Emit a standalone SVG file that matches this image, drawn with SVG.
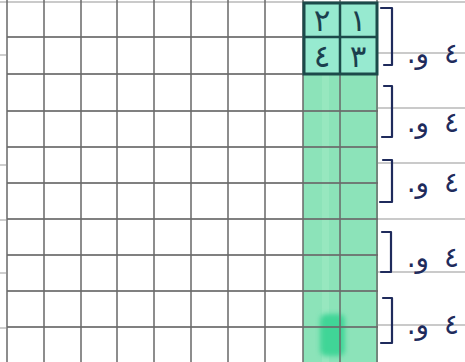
<svg xmlns="http://www.w3.org/2000/svg" width="465" height="362" viewBox="0 0 465 362">
<defs>
<style>
.grid{stroke:#6a6a6a;stroke-width:1.8;stroke-opacity:0.85;fill:none}
.rule{stroke:#b9b9b9;stroke-width:1.4;fill:none}
.br{stroke:#1f2b5c;stroke-width:2.2;fill:none;stroke-linecap:round;stroke-linejoin:round}
.lbl{font-family:"DejaVu Sans",sans-serif;font-size:28px;fill:#1f2b5c;word-spacing:6px}
.dig{font-family:"DejaVu Sans",sans-serif;font-size:31px;fill:#1b3f4e;text-anchor:middle}
</style>
<filter id="soft" x="-20%" y="-20%" width="140%" height="140%"><feGaussianBlur stdDeviation="2.5"/></filter>
</defs>
<rect width="465" height="362" fill="#ffffff"/>
<g id="rules">
<line class="rule" x1="0" y1="2" x2="465" y2="2"/>
<line class="rule" x1="378" y1="53" x2="465" y2="53"/>
<line class="rule" x1="378" y1="108" x2="465" y2="108"/>
<line class="rule" x1="378" y1="163" x2="465" y2="163"/>
<line class="rule" x1="378" y1="219" x2="465" y2="219"/>
<line class="rule" x1="378" y1="272" x2="465" y2="272"/>
<line class="rule" x1="378" y1="325" x2="465" y2="325"/>
<line class="rule" x1="0" y1="55" x2="6" y2="55"/>
<line class="rule" x1="0" y1="165" x2="6" y2="165"/>
<line class="rule" x1="0" y1="220" x2="6" y2="220"/>
<line class="rule" x1="0" y1="273" x2="6" y2="273"/>
<line class="rule" x1="0" y1="328" x2="6" y2="328"/>
</g>
<g id="column">
<rect x="303" y="3" width="75" height="359" fill="#8ce3b9"/>
<rect x="303" y="3" width="75" height="71" fill="#97ead0"/>
<rect x="322" y="74" width="7" height="288" fill="#a3eac8" opacity="0.45"/>
<rect x="320" y="314" width="25" height="42" rx="6" fill="#3fd597" filter="url(#soft)"/>
</g>
<g id="grid">
<line class="grid" x1="7" y1="0" x2="7" y2="362"/>
<line class="grid" x1="44" y1="0" x2="44" y2="362"/>
<line class="grid" x1="81" y1="0" x2="81" y2="362"/>
<line class="grid" x1="117" y1="0" x2="117" y2="362"/>
<line class="grid" x1="154" y1="0" x2="154" y2="362"/>
<line class="grid" x1="191" y1="0" x2="191" y2="362"/>
<line class="grid" x1="228" y1="0" x2="228" y2="362"/>
<line class="grid" x1="265" y1="0" x2="265" y2="362"/>
<line class="grid" x1="303" y1="0" x2="303" y2="362"/>
<line class="grid" x1="340" y1="0" x2="340" y2="362"/>
<line class="grid" x1="377" y1="0" x2="377" y2="362"/>
<line class="grid" x1="7" y1="37" x2="378" y2="37"/>
<line class="grid" x1="7" y1="74" x2="378" y2="74"/>
<line class="grid" x1="7" y1="111" x2="378" y2="111"/>
<line class="grid" x1="7" y1="147" x2="378" y2="147"/>
<line class="grid" x1="7" y1="183" x2="378" y2="183"/>
<line class="grid" x1="7" y1="219" x2="378" y2="219"/>
<line class="grid" x1="7" y1="255" x2="378" y2="255"/>
<line class="grid" x1="7" y1="291" x2="378" y2="291"/>
<line class="grid" x1="7" y1="327" x2="378" y2="327"/>
</g>
<g id="box">
<rect x="304" y="3" width="73" height="71" fill="none" stroke="#1c4a4a" stroke-width="3"/>
<line x1="340" y1="3" x2="340" y2="74" stroke="#1c4a4a" stroke-width="2.5"/>
<line x1="304" y1="37" x2="377" y2="37" stroke="#1c4a4a" stroke-width="2.5"/>
<text class="dig" x="322" y="31">٢</text>
<text class="dig" x="358" y="31">١</text>
<text class="dig" x="322" y="67">٤</text>
<text class="dig" x="358" y="67">٣</text>
</g>
<g id="labels">
<path class="br" d="M381,8 H392 V65 H384"/>
<path class="br" d="M384,86 H392 V137 H382"/>
<path class="br" d="M383,160 H392 V202 H380"/>
<path class="br" d="M382,232 H391 V272 H381"/>
<path class="br" d="M383,298 H392 V343 H381"/>
<text class="lbl" x="459" y="63" direction="rtl">٤ و.</text>
<text class="lbl" x="459" y="132" direction="rtl">٤ و.</text>
<text class="lbl" x="459" y="192" direction="rtl">٤ و.</text>
<text class="lbl" x="459" y="267" direction="rtl">٤ و.</text>
<text class="lbl" x="459" y="334" direction="rtl">٤ و.</text>
</g>
</svg>
